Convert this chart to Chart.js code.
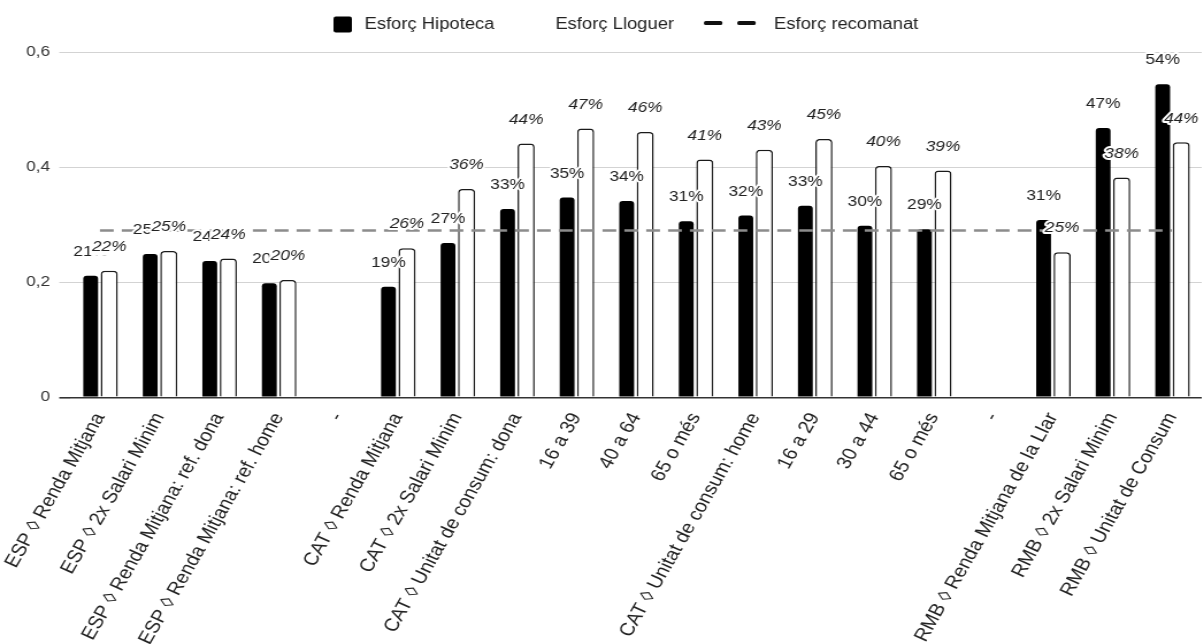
<!DOCTYPE html>
<html lang="ca">
<head>
<meta charset="utf-8">
<title>Esforç d'accés a l'habitatge</title>
<script src="https://cdn.jsdelivr.net/npm/chart.js@4.4.1/dist/chart.umd.min.js"></script>
<style>
  html, body { margin: 0; padding: 0; background: #fff; }
  #wrap { width: 1203px; height: 644px; overflow: hidden; position: relative; }
  /* the chart is laid out on a narrower canvas and widened horizontally */
  #chart { transform: scaleX(1.15); transform-origin: 0 0; }
</style>
</head>
<body>
<div id="wrap"><canvas id="chart" width="1046" height="644"></canvas></div>
<script>
const categories = [
  'ESP \u25CA Renda Mitjana',
  'ESP \u25CA 2x Salari Minim',
  'ESP \u25CA Renda Mitjana: ref. dona',
  'ESP \u25CA Renda Mitjana: ref. home',
  '-',
  'CAT \u25CA Renda Mitjana',
  'CAT \u25CA 2x Salari Minim',
  'CAT \u25CA Unitat de consum: dona',
  '16 a 39',
  '40 a 64',
  '65 o més',
  'CAT \u25CA Unitat de consum: home',
  '16 a 29',
  '30 a 44',
  '65 o més',
  '-',
  'RMB \u25CA Renda Mitjana de la Llar',
  'RMB \u25CA 2x Salari Minim',
  'RMB \u25CA Unitat de Consum'
];

const esforcHipoteca = [0.211, 0.249, 0.237, 0.198, null, 0.192, 0.268, 0.327, 0.347, 0.341,
                        0.306, 0.316, 0.333, 0.298, 0.292, null, 0.308, 0.468, 0.544];
const esforcLloguer  = [0.220, 0.254, 0.241, 0.204, null, 0.259, 0.362, 0.441, 0.467, 0.461,
                        0.413, 0.430, 0.449, 0.402, 0.394, null, 0.252, 0.382, 0.443];
const esforcRecomanat = [0.29, 0.29, 0.29, 0.29, 0.29, 0.29, 0.29, 0.29, 0.29, 0.29,
                         0.29, 0.29, 0.29, 0.29, 0.29, 0.29, 0.29, 0.29, 0.29];

const seriesNames = ['Esforç Hipoteca', 'Esforç Lloguer', 'Esforç recomanat'];
const yTickValues = [0, 0.2, 0.4, 0.6];

const FONT = "'Liberation Sans', Arial, Helvetica, sans-serif";
Chart.defaults.font.family = FONT;
Chart.defaults.color = '#222';

// percentage labels above every bar; rent labels sit on top of mortgage labels
const barValueLabels = {
  id: 'barValueLabels',
  afterDatasetsDraw(chart) {
    const ctx = chart.ctx;
    const LIFT = 24;
    const fonts = ['15px ' + FONT, 'italic 15px ' + FONT];

    const collect = di => {
      const values = chart.data.datasets[di].data;
      ctx.font = fonts[di];
      const out = [];
      chart.getDatasetMeta(di).data.forEach((bar, i) => {
        const v = values[i];
        if (v === null || v === undefined) return;
        const text = Math.round(v * 100) + '%';
        out.push({ text, x: bar.x, y: bar.y - LIFT, w: ctx.measureText(text).width });
      });
      return out;
    };
    const mortgage = collect(0);
    const rent = collect(1);

    const paint = (items, font) => {
      ctx.font = font;
      items.forEach(it => {
        ctx.strokeText(it.text, it.x, it.y);
        ctx.fillText(it.text, it.x, it.y);
      });
    };

    ctx.save();
    ctx.textAlign = 'center';
    ctx.textBaseline = 'middle';
    ctx.lineJoin = 'round';
    ctx.strokeStyle = '#fff';
    ctx.fillStyle = '#222';
    ctx.lineWidth = 4;

    // mortgage labels, hidden wherever a rent label is placed
    ctx.save();
    ctx.beginPath();
    ctx.rect(0, 0, chart.width, chart.height);
    rent.forEach(it => ctx.rect(it.x - it.w / 2 - 1, it.y - 9, it.w + 2, 18));
    ctx.clip('evenodd');
    paint(mortgage, fonts[0]);
    ctx.restore();

    paint(rent, fonts[1]);
    ctx.restore();
  }
};

// single-row legend across the top
const LEGEND_LEFT = 290;
const legendRow = {
  id: 'legendRow',
  afterDraw(chart) {
    const ctx = chart.ctx;
    const ds = chart.data.datasets;
    const cy = 24.5;
    ctx.save();
    ctx.font = '16px ' + FONT;
    ctx.textBaseline = 'middle';
    ctx.textAlign = 'left';
    const rr = (x, y, w, h, r) => {
      ctx.beginPath();
      if (ctx.roundRect) ctx.roundRect(x, y, w, h, r); else ctx.rect(x, y, w, h);
      ctx.fill();
    };
    let x = LEGEND_LEFT;
    // bar series: square swatch
    [0, 1].forEach(di => {
      ctx.fillStyle = ds[di].backgroundColor;
      rr(x, cy - 8, 16, 16, 2);
      x += 16 + 11;
      ctx.fillStyle = '#222';
      ctx.fillText(ds[di].label, x, cy);
      x += ctx.measureText(ds[di].label).width + 26;
    });
    // line series: two short dashes
    ctx.fillStyle = '#111';
    rr(x, cy - 3.5, 16, 4, 1.5);
    rr(x + 29, cy - 3.5, 16, 4, 1.5);
    x += 45 + 16;
    ctx.fillStyle = '#222';
    ctx.fillText(ds[2].label, x, cy);
    ctx.restore();
  }
};

new Chart(document.getElementById('chart'), {
  data: {
    labels: categories,
    datasets: [
      {
        type: 'bar',
        label: seriesNames[0],
        data: esforcHipoteca,
        backgroundColor: '#000',
        borderWidth: 0,
        borderRadius: 3,
        barPercentage: 0.8,
        categoryPercentage: 0.623,
        order: 1
      },
      {
        type: 'bar',
        label: seriesNames[1],
        data: esforcLloguer,
        backgroundColor: '#fff',
        borderColor: '#1a1a1a',
        borderWidth: 1.5,
        borderSkipped: 'start',
        borderRadius: 3.5,
        barPercentage: 0.92,
        categoryPercentage: 0.623,
        order: 1
      },
      {
        type: 'line',
        label: seriesNames[2],
        data: esforcRecomanat,
        borderColor: '#8c8c8c',
        borderWidth: 2.5,
        borderDash: [12, 7],
        pointRadius: 0,
        fill: false,
        tension: 0,
        order: 0
      }
    ]
  },
  options: {
    responsive: false,
    animation: false,
    devicePixelRatio: 1,
    layout: { padding: { top: 52, right: 1, left: 0, bottom: 0 } },
    plugins: {
      legend: { display: false },
      tooltip: { enabled: false }
    },
    scales: {
      x: {
        offset: true,
        grid: { display: false, drawTicks: false },
        border: { display: false },
        ticks: {
          autoSkip: false,
          minRotation: 63,
          maxRotation: 63,
          padding: 12,
          color: '#222',
          font: { size: 18 }
        },
        afterFit: s => {
          s.height = 246.7;
          s.paddingLeft = 0;
          s.paddingRight = 0;
        }
      },
      y: {
        min: 0,
        max: 0.6,
        afterBuildTicks: s => { s.ticks = yTickValues.map(v => ({ value: v })); },
        grid: {
          color: c => (c.tick && c.tick.value === 0) ? '#333' : '#d3d3d3',
          lineWidth: c => (c.tick && c.tick.value === 0) ? 1.6 : 1,
          drawTicks: true,
          tickLength: 9.5
        },
        border: { display: false },
        ticks: {
          padding: 8,
          color: '#333',
          font: { size: 15 },
          callback: v => v === 0 ? '0' : Number(v).toFixed(1).replace('.', ',')
        },
        afterFit: s => { s.width = 61; }
      }
    }
  },
  plugins: [barValueLabels, legendRow]
});
</script>
</body>
</html>
